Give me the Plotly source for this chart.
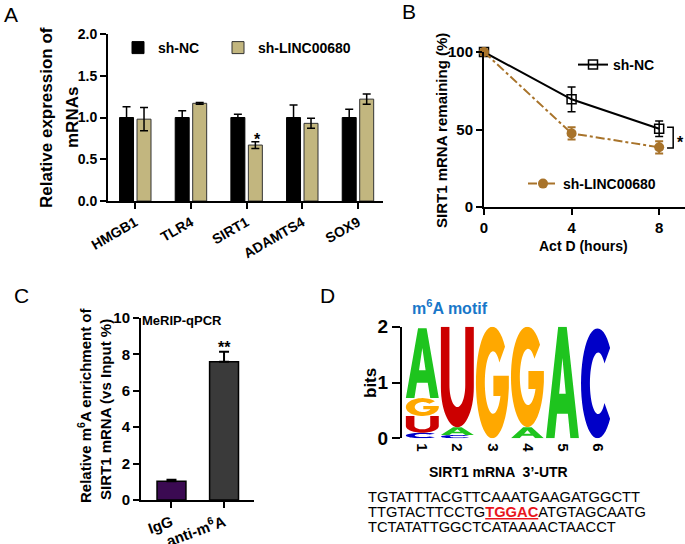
import math
import plotly.graph_objects as go

W, H = 685, 544
FONT = "Liberation Sans, Arial, Helvetica, sans-serif"

# ---------------- Panel A data ----------------
genes = ["HMGB1", "TLR4", "SIRT1", "ADAMTS4", "SOX9"]
nc_expr = [1.00, 1.00, 1.00, 1.00, 1.00]
nc_expr_err = [0.13, 0.08, 0.04, 0.15, 0.10]
kd_expr = [0.98, 1.17, 0.67, 0.93, 1.22]
kd_expr_err = [0.14, 0.01, 0.04, 0.06, 0.06]
a_yticks = [0.0, 0.5, 1.0, 1.5, 2.0]

# ---------------- Panel B data ----------------
actd_hours = [0, 4, 8]
nc_remaining = [100, 69.5, 50.5]
nc_remaining_err = [0, 8, 5]
kd_remaining = [100, 47.5, 38.5]
kd_remaining_err = [0, 4, 4]

# ---------------- Panel C data ----------------
merip_groups = ["IgG", "anti-m<sup>6</sup>A"]
merip_enrich = [1.03, 7.6]
merip_err = [0.08, 0.55]

# ---------------- Panel D data ----------------
motif_positions = [1, 2, 3, 4, 5, 6]
bits_A = [1.25, 0.14, 0.0, 0.20, 2.00, 0.0]
bits_C = [0.10, 0.06, 0.0, 0.0, 0.0, 1.97]
bits_G = [0.32, 0.0, 2.00, 1.80, 0.0, 0.0]
bits_U = [0.30, 1.80, 0.0, 0.0, 0.0, 0.0]
utr_line1 = "TGTATTTACGTTCAAATGAAGATGGCTT"
utr_line2_pre = "TTGTACTTCCTG"
utr_site = "TGGAC"
utr_line2_post = "ATGTAGCAATG"
utr_line3 = "TCTATATTGGCTCATAAAACTAACCT"

BLACK = "#000000"
TAN = "#c2b67f"
BROWN = "#a8732a"
PURPLE = "#3b0a52"
DGRAY = "#3a3a3a"
LETTER_COLORS = {"A": "#1ec41e", "C": "#0000c8", "G": "#ffa800", "U": "#cc0000"}


def xd(a, b):
    return [a / W, b / W]


def yd(top, bottom):
    return [1 - bottom / H, 1 - top / H]


def px(x):
    return x / W


def py(y):
    return 1 - y / H


def axis_common(**kw):
    d = dict(showgrid=False, zeroline=False, showline=True, linecolor="black",
             linewidth=2, ticks="outside", ticklen=6, tickwidth=2, tickcolor="black",
             automargin=False,
             tickfont=dict(family=FONT, size=14, color="black", weight="bold"))
    d.update(kw)
    return d


fig = go.Figure()

# ---- Panel A bars
fig.add_trace(go.Bar(x=genes, y=nc_expr, name="sh-NC", marker=dict(color=BLACK, line=dict(color="black", width=1)),
                     error_y=dict(type="data", array=nc_expr_err, color="black", thickness=1.5, width=4),
                     xaxis="x", yaxis="y", legend="legend"))
fig.add_trace(go.Bar(x=genes, y=kd_expr, name="sh-LINC00680", marker=dict(color=TAN, line=dict(color="#333333", width=1)),
                     error_y=dict(type="data", array=kd_expr_err, color="black", thickness=1.5, width=4),
                     xaxis="x", yaxis="y", legend="legend4"))

# ---- Panel B lines
fig.add_trace(go.Scatter(x=actd_hours, y=nc_remaining, name="sh-NC", mode="lines+markers",
                         line=dict(color="black", width=2),
                         marker=dict(symbol="square-open", size=9, color="black", line=dict(width=1.5)),
                         error_y=dict(type="data", array=nc_remaining_err, color="black", thickness=1.5, width=4),
                         cliponaxis=False, xaxis="x2", yaxis="y2", legend="legend2"))
fig.add_trace(go.Scatter(x=actd_hours, y=kd_remaining, name="sh-LINC00680", mode="lines+markers",
                         line=dict(color=BROWN, width=2, dash="dashdot"),
                         marker=dict(symbol="circle", size=10, color=BROWN),
                         error_y=dict(type="data", array=kd_remaining_err, color=BROWN, thickness=2, width=4),
                         cliponaxis=False, xaxis="x2", yaxis="y2", legend="legend3"))

# ---- Panel C bars
fig.add_trace(go.Bar(x=merip_groups, y=merip_enrich, width=0.55, showlegend=False,
                     marker=dict(color=[PURPLE, DGRAY], line=dict(color="black", width=1.5)),
                     error_y=dict(type="data", array=merip_err, arrayminus=[0, 0], symmetric=False,
                                  color="black", thickness=2, width=5),
                     xaxis="x3", yaxis="y3"))

# ---- Panel D: invisible trace to hold axes
fig.add_trace(go.Scatter(x=motif_positions, y=[0] * len(motif_positions), mode="markers",
                         marker=dict(size=1, color="rgba(0,0,0,0)"), showlegend=False,
                         hoverinfo="skip", xaxis="x4", yaxis="y4"))


# ---- sequence-logo glyphs (unit box polygons)
def arc(cx, cy, rx, ry, a0, a1, n=28):
    pts = []
    for i in range(n + 1):
        a = math.radians(a0 + (a1 - a0) * i / n)
        pts.append((cx + rx * math.cos(a), cy + ry * math.sin(a)))
    return pts


def glyph(letter):
    if letter == "A":
        outer = [(0, 0), (0.37, 1), (0.63, 1), (1, 0), (0.74, 0), (0.665, 0.22), (0.335, 0.22), (0.26, 0)]
        hole = [(0.40, 0.40), (0.60, 0.40), (0.5, 0.72)]
        return [outer, hole]
    if letter == "U":
        pts = [(0, 1), (0, 0.4)]
        pts += arc(0.5, 0.4, 0.5, 0.4, 180, 360)
        pts += [(1, 1), (0.74, 1), (0.74, 0.42)]
        pts += arc(0.5, 0.42, 0.24, 0.22, 360, 180)
        pts += [(0.26, 1)]
        return [pts]
    if letter == "C":
        pts = arc(0.5, 0.5, 0.5, 0.5, 40, 320, 40)
        pts += arc(0.52, 0.5, 0.25, 0.28, 320, 40, 40)
        return [pts]
    if letter == "G":
        pts = arc(0.5, 0.5, 0.5, 0.5, 40, 350, 44)
        pts += [(1.0, 0.45), (1.0, 0.56), (0.53, 0.56), (0.53, 0.38), (0.76, 0.38)]
        pts += arc(0.52, 0.5, 0.25, 0.28, 335, 40, 40)
        return [pts]
    return []


def glyph_path(letter, xc, y0, h, w=0.94):
    parts = []
    for poly in glyph(letter):
        coords = ["%.4f,%.4f" % (xc - w / 2 + u * w, y0 + v * h) for (u, v) in poly]
        parts.append("M" + " L".join(coords) + " Z")
    return " ".join(parts)


shapes = []
letter_bits = {"A": bits_A, "C": bits_C, "G": bits_G, "U": bits_U}
for i, pos in enumerate(motif_positions):
    stack = sorted([(letter_bits[l][i], l) for l in "ACGU" if letter_bits[l][i] > 0])
    base = 0.0
    for hgt, l in stack:
        shapes.append(dict(type="path", xref="x4", yref="y4", path=glyph_path(l, pos, base, hgt),
                           fillcolor=LETTER_COLORS[l], line=dict(width=0), layer="above"))
        base += hgt

# ---- significance bracket in panel B
bx = actd_hours[-1] + 0.64
bt = actd_hours[-1] + 0.36
shapes.append(dict(type="path", xref="x2", yref="y2",
                   path="M%.2f,%.2f L%.2f,%.2f L%.2f,%.2f L%.2f,%.2f" % (
                       bt, nc_remaining[-1] + 1, bx, nc_remaining[-1] + 1, bx, kd_remaining[-1] - 0.5,
                       bt, kd_remaining[-1] - 0.5),
                   line=dict(color="black", width=1.5)))

annotations = []


def ann(text, x, y, size=14, bold=True, angle=0, xanchor="center", yanchor="middle", color="black",
        xref="paper", yref="paper", align="center"):
    annotations.append(dict(text=text, x=x, y=y, xref=xref, yref=yref, showarrow=False,
                            textangle=angle, xanchor=xanchor, yanchor=yanchor, align=align,
                            font=dict(family=FONT, size=size, color=color,
                                      weight="bold" if bold else "normal")))


# panel letters
ann("A", px(11), py(14), size=21, bold=False)
ann("B", px(409), py(11), size=21, bold=False)
ann("C", px(21), py(295), size=21, bold=False)
ann("D", px(327), py(295), size=21, bold=False)

# panel A titles
ann("Relative expression of", px(46), py(118), size=17, angle=-90)
ann("mRNAs", px(72), py(118), size=17, angle=-90)
ann("*", 2.19, kd_expr[2] + kd_expr_err[2] + 0.03, size=16, xref="x", yref="y")

# panel B titles
ann("SIRT1 mRNA remaining (%)", px(441), py(131), size=15, angle=-90)
ann("Act D (hours)", px(583), py(246), size=14)
ann("*", bx + 0.32, (nc_remaining[-1] + kd_remaining[-1]) / 2 - 3, size=16, xref="x2", yref="y2")

# panel C titles
ann("Relative m<sup>6</sup>A enrichment of", px(84), py(405), size=15, angle=-90)
ann("SIRT1 mRNA (vs Input %)", px(105), py(410), size=15, angle=-90)
ann("MeRIP-qPCR", px(182), py(320), size=13)
ann("**", 1, merip_enrich[1] + merip_err[1] + 0.25, size=16, xref="x3", yref="y3")

# panel D texts
ann("m<sup>6</sup>A motif", px(450), py(307), size=16, color="#1877c9")
ann("bits", px(370), py(383), size=17, angle=-90)
ann("SIRT1 mRNA  3\u2019-UTR", px(498), py(472), size=14)
ann(utr_line1, px(366), py(497), size=14.7, bold=False, xanchor="left")
ann(utr_line2_pre + "<span style='color:#e8141c'><b><u>" + utr_site + "</u></b></span>" + utr_line2_post,
    px(366), py(512), size=14.7, bold=False, xanchor="left")
ann(utr_line3, px(366), py(527), size=14.7, bold=False, xanchor="left")

legend_font = dict(family=FONT, size=14, color="black", weight="bold")

fig.update_layout(
    width=W, height=H, margin=dict(l=0, r=0, t=0, b=0, autoexpand=False),
    paper_bgcolor="white", plot_bgcolor="white",
    barmode="group", bargap=0.372, bargroupgap=0.2,
    font=dict(family=FONT, color="black"),
    xaxis=axis_common(domain=xd(108, 383), range=[-0.49, 4.45], tickangle=-30, anchor="y", ticklen=6),
    yaxis=axis_common(domain=yd(34, 201), range=[0, 2.0], tickvals=a_yticks, tickformat=".1f", anchor="x"),
    xaxis2=axis_common(domain=xd(484, 685), range=[0, 9.18], tickvals=actd_hours, anchor="y2",
                       tickfont=dict(family=FONT, size=15, color="black", weight="bold")),
    yaxis2=axis_common(domain=yd(52, 207), range=[0, 100], tickvals=[0, 50, 100], anchor="x2",
                       tickfont=dict(family=FONT, size=15, color="black", weight="bold")),
    xaxis3=axis_common(domain=xd(141, 254), range=[-0.58, 1.57], tickangle=-20, anchor="y3",
                       tickfont=dict(family=FONT, size=15, color="black", weight="bold")),
    yaxis3=axis_common(domain=yd(318, 500), range=[0, 10], tickvals=[0, 2, 4, 6, 8, 10], anchor="x3",
                       tickfont=dict(family=FONT, size=15, color="black", weight="bold")),
    xaxis4=dict(domain=xd(402, 615), range=[0.42, 6.5], showline=False, showgrid=False, zeroline=False,
                tickvals=motif_positions, ticks="outside", ticklen=1, tickcolor="rgba(0,0,0,0)",
                tickangle=90, anchor="y4", automargin=False,
                tickfont=dict(family=FONT, size=15, color="black", weight="bold")),
    yaxis4=axis_common(domain=yd(326.7, 438.3), range=[0, 2], tickvals=[0, 1, 2], anchor="x4", ticklen=8,
                       tickfont=dict(family=FONT, size=19, color="black", weight="bold")),
    legend=dict(x=px(118), y=py(48), xanchor="left", yanchor="middle", orientation="h",
                font=legend_font, bgcolor="rgba(0,0,0,0)"),
    legend4=dict(x=px(218), y=py(48), xanchor="left", yanchor="middle", orientation="h",
                 font=legend_font, bgcolor="rgba(0,0,0,0)"),
    legend2=dict(x=px(573), y=py(65), xanchor="left", yanchor="middle", font=legend_font,
                 bgcolor="rgba(0,0,0,0)"),
    legend3=dict(x=px(523), y=py(184), xanchor="left", yanchor="middle", font=legend_font,
                 bgcolor="rgba(0,0,0,0)"),
    shapes=shapes, annotations=annotations,
)

fig.write_html("out.html", config={"displayModeBar": False},
               post_script="document.body.style.margin='0';document.body.style.padding='0';"
                           "document.documentElement.style.overflow='hidden';")
